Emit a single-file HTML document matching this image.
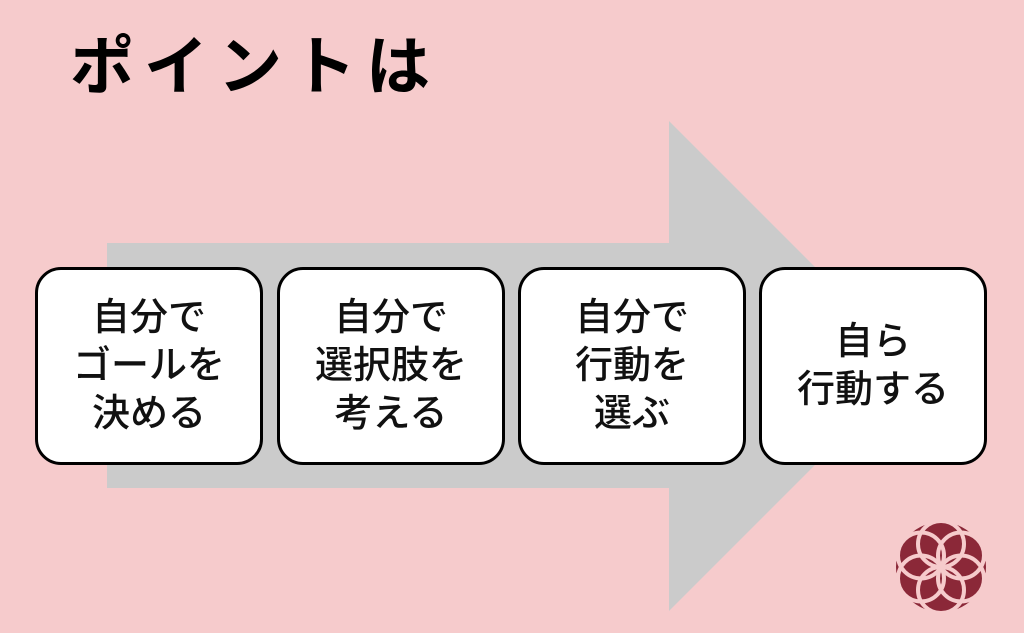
<!DOCTYPE html>
<html><head><meta charset="utf-8">
<style>
html,body{margin:0;padding:0}
body{width:1024px;height:633px;background:#f6cbcc;position:relative;overflow:hidden;font-family:"Liberation Sans","Noto Sans CJK JP",sans-serif}
.title{position:absolute;left:70px;top:22px;font-size:64px;font-weight:bold;letter-spacing:10px;line-height:90px;color:#000}
.box{position:absolute;top:267px;width:222px;height:192px;background:#fff;border:3px solid #000;border-radius:26px;display:flex;align-items:center;justify-content:center;text-align:center;font-size:38px;font-weight:500;line-height:48px;color:#111}
</style></head><body>
<svg width="1024" height="633" style="position:absolute;left:0;top:0">
<polygon points="107,243 669,243 669,121 914,366 669,611 669,488 107,488" fill="#cbcbcb"/>
<g transform="translate(941,567)">
<circle r="47" fill="#8b2838"/>
<g fill="none" stroke="#f6cbcc" stroke-width="4">
<circle cx="0" cy="-23" r="23"/><circle cx="20" cy="-11.5" r="23"/><circle cx="20" cy="11.5" r="23"/>
<circle cx="0" cy="23" r="23"/><circle cx="-20" cy="11.5" r="23"/><circle cx="-20" cy="-11.5" r="23"/>
<circle r="47"/>
</g>
</g>
</svg>
<div class="title">ポイントは</div>
<div class="box" style="left:35px">自分で<br>ゴールを<br>決める</div>
<div class="box" style="left:277px">自分で<br>選択肢を<br>考える</div>
<div class="box" style="left:518px">自分で<br>行動を<br>選ぶ</div>
<div class="box" style="left:759px">自ら<br>行動する</div>
</body></html>
